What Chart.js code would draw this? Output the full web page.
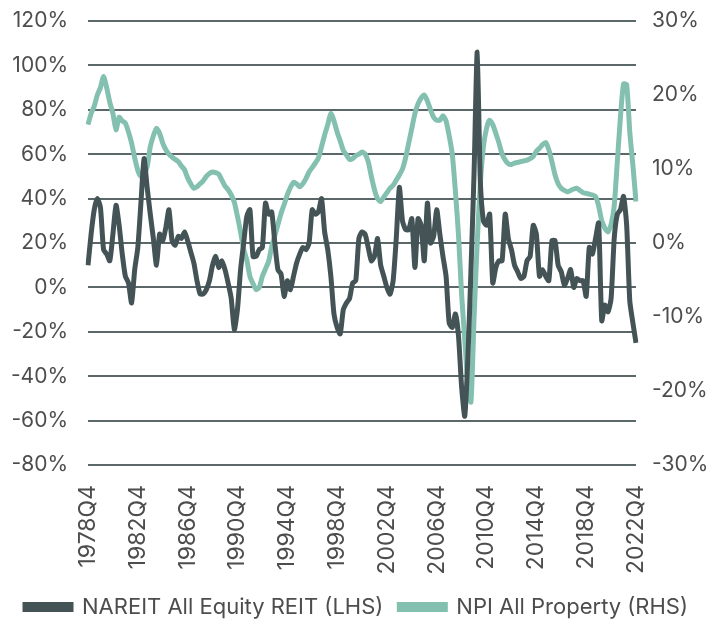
<!DOCTYPE html>
<html>
<head>
<meta charset="utf-8">
<script src="https://cdn.jsdelivr.net/npm/chart.js@4"></script>
<style>
    html, body { margin: 0; padding: 0; background: #fff; }
    #wrap { width: 713px; height: 628px; }
</style>
</head>
<body>
<div id="wrap"><canvas id="reitChart" width="713" height="628"></canvas></div>
<script>
// quarters 1978Q4 .. 2022Q4
var quarters = [];
for (let y = 1978; y <= 2022; y++) {
    for (let q = 1; q <= 4; q++) {
        if (y === 1978 && q < 4) continue;
        quarters.push(y + 'Q' + q);
    }
}

// NAREIT All Equity REIT, rolling annual return (%), left axis
var nareit = [
    10, 24, 35, 40, 36, 17, 15, 12, 24, 37, 28, 15, 5, 2, -7, 8,
    18, 38, 58, 45, 33, 22, 10, 24, 21, 27, 35, 21, 19, 23, 22, 25,
    21, 16, 11, 3, -3, -3, -1, 3, 10, 14, 9, 12, 8, 2, -5, -19,
    -10, 8, 20, 32, 35, 14, 14, 17, 18, 38, 33, 34, 20, 8, 6, -4,
    3, -1, 5, 11, 15, 18, 17, 20, 35, 33, 34, 40, 25, 17, 5, -12,
    -18, -21, -10, -7, -5, 2, 3, 22, 25, 24, 18, 12, 14, 22, 10, 5,
    0, -3, 3, 22, 45, 30, 26, 26, 31, 9, 31, 28, 12, 38, 20, 23,
    35, 24, 14, 5, -16, -18, -12, -22, -45, -58, -32, 8, 52, 106, 48, 30,
    28, 33, 2, 9, 12, 12, 33, 22, 17, 10, 7, 4, 5, 12, 14, 28,
    24, 5, 8, 5, 3, 21, 21, 10, 7, 1, 4, 8, 0, 4, 3, 3,
    -4, 18, 15, 22, 29, -15, -8, -11, -5, 22, 33, 35, 41, 28, -6, -16,
    -25
];

// NPI All Property, rolling annual return (%), right axis
var npi = [
    16, 17.5, 18.5, 20, 21, 22.5, 21, 19, 17.5, 15.3, 17, 16.5, 16.2, 15, 13.5, 11.5,
    9.8, 9, 9.3, 10.3, 13, 14.5, 15.5, 14.8, 13.5, 12.6, 12, 11.6, 11.3, 11, 10.4, 9.9,
    8.8, 8, 7.4, 7.6, 8, 8.4, 9, 9.4, 9.6, 9.5, 9.3, 8.5, 7.7, 7.2, 6.5, 5.5,
    3.6, 1.5, -0.8, -2.3, -4.5, -5.5, -6.3, -6, -4.5, -3.5, -2.5, -0.5, 1, 2.5, 4, 5.2,
    6.5, 7.5, 8.2, 8, 7.6, 8, 8.7, 9.6, 10.2, 10.8, 11.5, 13, 14.6, 16, 17.5, 16.5,
    15, 13.8, 12.5, 11.9, 11.3, 11.4, 11.8, 12, 12.3, 12, 11, 9, 7.2, 6, 5.6, 6.2,
    6.8, 7.4, 7.8, 8.5, 9.2, 10, 11.5, 13.5, 15.5, 17.5, 18.8, 19.6, 20, 19.2, 18, 17,
    16.6, 16.6, 17.2, 16.5, 14.5, 12, 7, 1, -7, -13, -19, -21.5, -10, 0, 8, 13,
    15.5, 16.6, 16, 14.8, 13.5, 12, 11.2, 10.7, 10.6, 10.8, 10.9, 11, 11.1, 11.2, 11.4, 11.7,
    12.4, 12.8, 13.3, 13.6, 12.6, 11, 9.2, 8, 7.4, 7.1, 6.9, 7.1, 7.3, 7.4, 7.1, 6.8,
    6.7, 6.6, 6.5, 6.3, 5, 3, 2, 1.5, 2.5, 5, 11, 17, 21.5, 21.4, 15, 10.5,
    5.6
];

var leftTicks = [-80, -60, -40, -20, 0, 20, 40, 60, 80, 100, 120];
var rightTicks = [-30, -20, -10, 0, 10, 20, 30];

var darkColor = '#435356';
var tealColor = '#84c0af';
var textColor = '#4d4d4d';
var gridColor = '#5c6769';
var fontFamily = 'Inter, "Noto Sans", sans-serif';

// fixed box sizes so the plot area lands where the original has it
function fitY(width) {
    return function(scale) {
        scale.width = width;
        scale.paddingTop = 0;
        scale.paddingBottom = 0;
    };
}

new Chart(document.getElementById('reitChart'), {
    type: 'line',
    data: {
        labels: quarters,
        datasets: [
            {
                label: 'NAREIT All Equity REIT (LHS)',
                data: nareit,
                yAxisID: 'yLeft',
                borderColor: darkColor,
                backgroundColor: darkColor,
                borderWidth: 5,
                pointRadius: 0,
                tension: 0.2
            },
            {
                label: 'NPI All Property (RHS)',
                data: npi,
                yAxisID: 'yRight',
                borderColor: tealColor,
                backgroundColor: tealColor,
                borderWidth: 5,
                pointRadius: 0,
                tension: 0.2
            }
        ]
    },
    options: {
        responsive: false,
        animation: false,
        layout: { padding: { top: 21, left: 0, right: 0, bottom: 0 } },
        plugins: {
            tooltip: { enabled: false },
            legend: {
                position: 'bottom',
                labels: {
                    color: textColor,
                    font: { family: fontFamily, size: 22 },
                    boxWidth: 46,
                    boxHeight: 5,
                    padding: 16
                }
            }
        },
        scales: {
            x: {
                grid: { display: false },
                border: { display: false },
                afterFit: function(scale) { scale.height = 115; },
                ticks: {
                    autoSkip: false,
                    maxRotation: 90,
                    minRotation: 90,
                    padding: 12,
                    color: textColor,
                    font: { family: fontFamily, size: 23 },
                    callback: function(val, i) {
                        return i % 16 === 0 ? quarters[i] : null;
                    }
                }
            },
            yLeft: {
                position: 'left',
                min: -80,
                max: 120,
                afterFit: fitY(88),
                afterBuildTicks: function(scale) {
                    scale.ticks = leftTicks.map(v => ({ value: v }));
                },
                grid: { color: gridColor, lineWidth: 2, drawTicks: false },
                border: { display: false },
                ticks: {
                    padding: 20,
                    color: textColor,
                    font: { family: fontFamily, size: 21 },
                    callback: v => v + '%'
                }
            },
            yRight: {
                position: 'right',
                min: -30,
                max: 30,
                afterFit: fitY(77),
                afterBuildTicks: function(scale) {
                    scale.ticks = rightTicks.map(v => ({ value: v }));
                },
                grid: { display: false, drawTicks: false },
                border: { display: false },
                ticks: {
                    padding: 16,
                    color: textColor,
                    font: { family: fontFamily, size: 21 },
                    callback: v => v + '%'
                }
            }
        }
    }
});
</script>
</body>
</html>
